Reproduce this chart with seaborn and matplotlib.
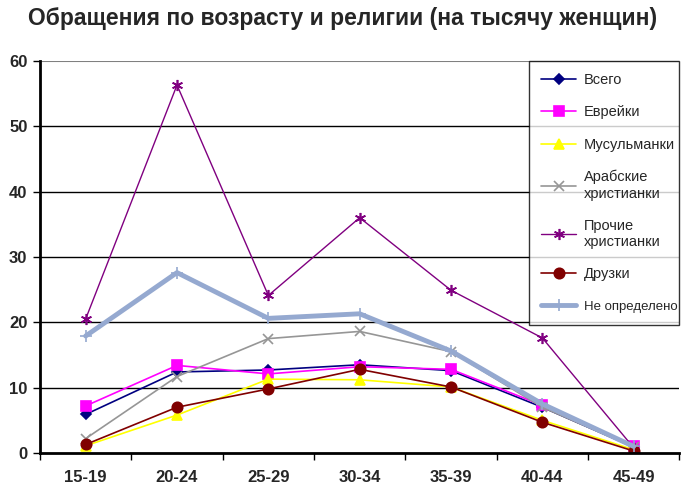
import pandas as pd
import seaborn as sns
import matplotlib.pyplot as plt
from matplotlib.ticker import FixedLocator, NullFormatter

# Données
ages = ['15-19', '20-24', '25-29', '30-34', '35-39', '40-44', '45-49']
vsego = [5.9, 12.4, 12.7, 13.5, 12.6, 7.0, 0.9]
evreiki = [7.2, 13.4, 12.1, 13.2, 12.8, 7.3, 1.0]
musulmanki = [1.1, 5.8, 11.3, 11.2, 10.1, 5.0, 0.5]
arab_hrist = [2.2, 11.7, 17.5, 18.6, 15.5, 7.0, 0.9]
prochie_hrist = [20.5, 56.3, 24.1, 36.0, 24.9, 17.6, 0.8]
druzki = [1.3, 7.0, 9.8, 12.8, 10.1, 4.7, 0.3]
ne_opredeleno = [17.9, 27.6, 20.6, 21.3, 15.6, 7.5, 1.0]

series = [
    ('Всего', vsego, '#000080', 'D', 5, 1.2),
    ('Еврейки', evreiki, '#FF00FF', 's', 7, 1.2),
    ('Мусульманки', musulmanki, '#FFFF00', '^', 7, 1.2),
    ('Арабские\nхристианки', arab_hrist, '#969696', 'x', 7, 1.2),
    ('Прочие\nхристианки', prochie_hrist, '#800080', (6, 2, 0), 8, 1.0),
    ('Друзки', druzki, '#800000', 'o', 7.5, 1.2),
    ('Не определено', ne_opredeleno, '#95A9D0', '+', 9, 3.5),
]

sns.set_style('white')
plt.rcParams['font.family'] = ['Liberation Sans', 'DejaVu Sans']

fig = plt.figure(figsize=(6.86, 4.92), dpi=100)
ax = fig.add_axes([0.0583, 0.0793, 0.932, 0.797])

for gl in [10, 20, 30, 40, 50]:
    ax.axhline(gl, color='black', lw=1.0, zorder=0)
ax.axhline(60, color='#808080', lw=1.5, zorder=0)

for name, vals, col, mk, ms, lw in series:
    df = pd.DataFrame({'age': ages, 'val': vals})
    sns.lineplot(data=df, x='age', y='val', ax=ax, color=col, marker=mk,
                 markersize=ms, linewidth=lw, markeredgecolor=col,
                 markeredgewidth=1.2, label=name, sort=False)

ax.set_xlim(-0.5, 6.5)
ax.set_ylim(0, 60)
ax.set_yticks(range(0, 61, 10))
ax.xaxis.set_major_locator(FixedLocator([i - 0.5 for i in range(8)]))
ax.xaxis.set_major_formatter(NullFormatter())
ax.xaxis.set_minor_locator(FixedLocator(list(range(7))))
ax.set_xticklabels(ages, minor=True)
ax.tick_params(axis='x', which='major', length=5, width=1, color='black', direction='out', bottom=True)
ax.tick_params(axis='x', which='minor', length=0, pad=12, labelsize=12)
ax.tick_params(axis='y', length=5, width=1, color='black', direction='out', left=True, labelsize=12, pad=4)
for lab in ax.get_xticklabels(minor=True) + ax.get_yticklabels():
    lab.set_fontweight('bold')

ax.set_xlabel('')
ax.set_ylabel('')
for s in ['top', 'right']:
    ax.spines[s].set_visible(False)
ax.spines['left'].set_color('black')
ax.spines['left'].set_linewidth(2)
ax.spines['bottom'].set_color('black')
ax.spines['bottom'].set_linewidth(2)

leg = ax.legend(loc='upper left', bbox_to_anchor=(0.765, 1.0, 0.235, 0.0), mode='expand',
                frameon=True, fancybox=False, edgecolor='black', fontsize=10.5,
                labelspacing=1.25, handlelength=2.4, handletextpad=0.5,
                borderpad=0.85, borderaxespad=0)
leg.get_frame().set_linewidth(1.0)
for t in leg.get_texts():
    t.set_linespacing(1.2)
leg.get_texts()[-1].set_fontsize(9.5)

fig.suptitle('Обращения по возрасту и религии (на тысячу женщин)', x=0.5, y=0.985,
             fontsize=16.5, fontweight='bold')

fig.savefig('out.png', dpi=100)
